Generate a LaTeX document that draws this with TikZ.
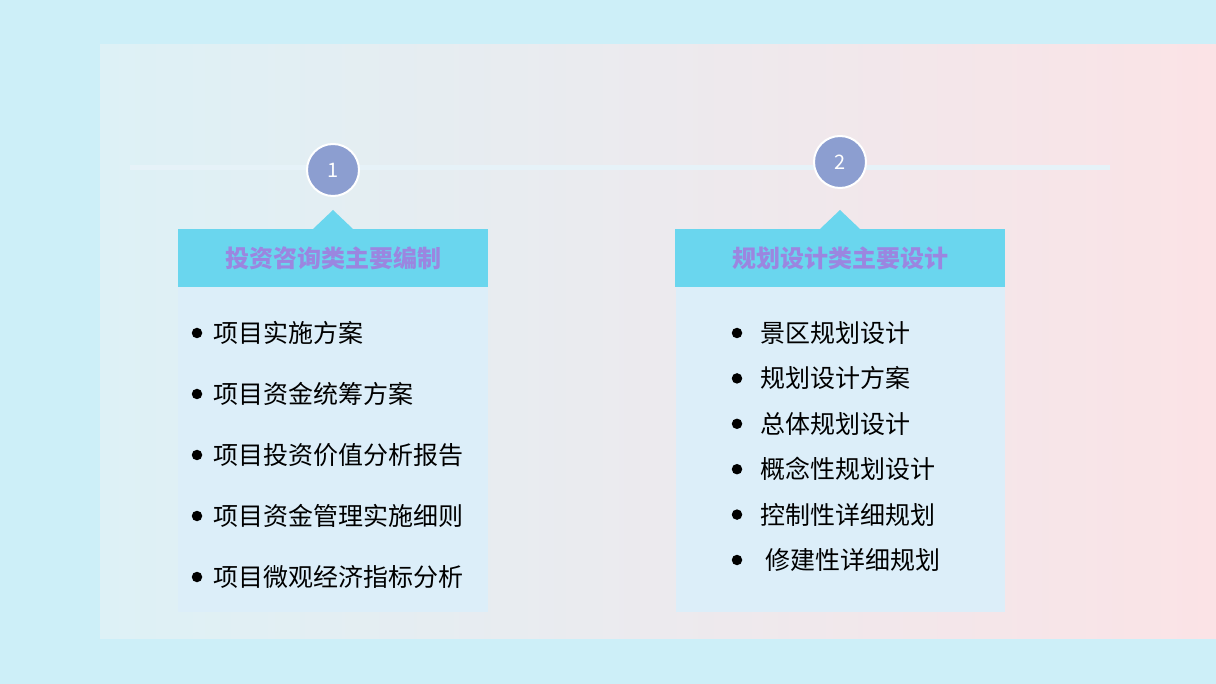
\documentclass[tikz,border=0pt]{standalone}
\usepackage{fontspec}
\setmainfont{Noto Sans CJK SC}
\definecolor{bgc}{HTML}{CDEFF8}
\definecolor{pl}{HTML}{DDF1F6}
\definecolor{pr}{HTML}{FBE3E6}
\definecolor{circ}{HTML}{8C9ED0}
\definecolor{head}{HTML}{6AD6EE}
\definecolor{headt}{HTML}{9B86E0}
\definecolor{body}{HTML}{DCEEF9}
\definecolor{linec}{HTML}{E6F2F8}
\tikzset{x=1pt,y=-1pt,
 numc/.style={circle,fill=circ,draw=white,line width=2pt,minimum size=52pt,text=white,font=\fontsize{20}{24}\selectfont},
 headbox/.style={fill=head,minimum width=310pt,minimum height=58pt,inner sep=0pt,text=headt,font=\fontsize{24}{28}\selectfont\bfseries},
 item/.style={anchor=west,font=\fontsize{25}{29}\selectfont,inner sep=0pt},
 dot/.style={circle,fill=black,inner sep=0pt,minimum size=10.5pt}}
\begin{document}
\begin{tikzpicture}
\useasboundingbox (0,0) rectangle (1216,684);
\fill[bgc] (0,0) rectangle (1216,684);
\shade[left color=pl,right color=pr] (100,45) rectangle (1216,638);
\node[headbox] (h1) at (333,258) {投资咨询类主要编制};
\node[headbox,minimum width=330pt] (h2) at (840,258) {规划设计类主要设计};
\fill[body] (178,287) rectangle (488,612);
\fill[body] (676,287) rectangle (1005,612);
\coordinate (la) at (130,168); \coordinate (lb) at (1110,168);
\draw[linec,line width=5pt] (la) -- (lb);
\fill[head] (313,229) -- (333,210) -- (353,229) -- cycle;
\fill[head] (820,229) -- (840,210) -- (860,229) -- cycle;
\node[numc] (c1) at (333,170) {1};
\node[numc] (c2) at (840,162) {2};
\foreach \t [count=\i] in {项目实施方案,项目资金统筹方案,项目投资价值分析报告,项目资金管理实施细则,项目微观经济指标分析}{
 \node[dot] (ld\i) at (197,{333+61*(\i-1)}) {};
 \node[item] (lt\i) at (213,{333+61*(\i-1)}) {\t};}
\foreach \t [count=\i] in {景区规划设计,规划设计方案,总体规划设计,概念性规划设计,控制性详细规划,\ 修建性详细规划}{
 \node[dot] (rd\i) at (737,{333+45.4*(\i-1)}) {};
 \node[item] (rt\i) at (760,{333+45.4*(\i-1)}) {\t};}
\end{tikzpicture}
\end{document}
